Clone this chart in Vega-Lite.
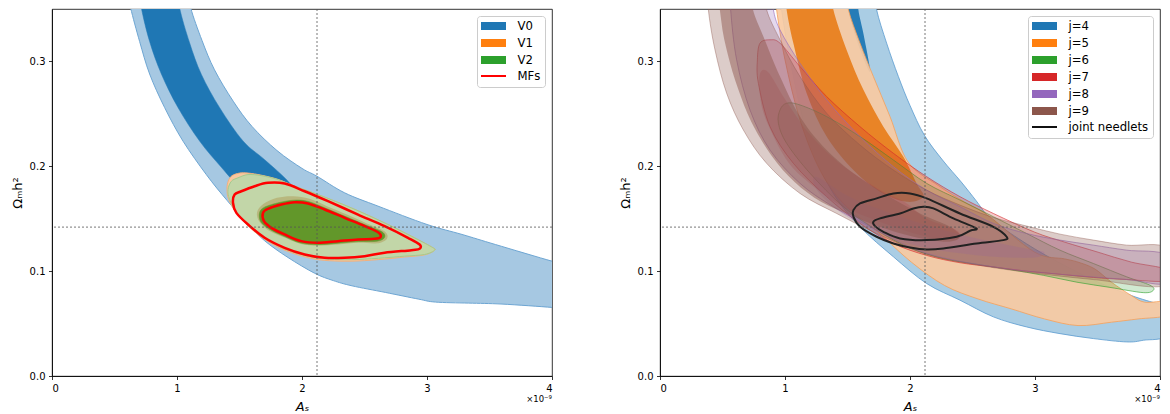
{
"$schema": "https://vega.github.io/schema/vega-lite/v6.json",
"padding": {"left": 10, "top": 8, "right": 3, "bottom": 0},
"spacing": 65,
"resolve": {"scale": {"fill": "independent", "stroke": "independent", "shape": "independent"}, "legend": {"fill": "independent", "stroke": "independent", "shape": "independent"}},
"config": {
 "font": "DejaVu Sans",
 "view": {"stroke": "#000", "strokeWidth": 0.8},
 "axis": {"grid": false, "labelFont": "DejaVu Sans", "labelFontSize": 10, "labelColor": "#000", "titleFont": "DejaVu Sans", "titleFontSize": 13, "titleFontWeight": "normal", "titleColor": "#000", "tickColor": "#000", "tickSize": 3.5, "tickWidth": 0.8, "domainColor": "#000", "domainWidth": 0.8, "labelPadding": 3.5, "titlePadding": 5},
 "axisX": {"titleFontStyle": "italic", "titlePadding": 7},
 "legend": {"title": null, "orient": "top-right", "offset": 7, "padding": 4, "rowPadding": 3, "columnPadding": 0, "symbolSize": 100, "symbolStrokeWidth": 2, "symbolOffset": 6.5, "labelOffset": 18, "labelFontSize": 11.7, "labelFont": "DejaVu Sans", "labelColor": "#000", "strokeColor": "#cccccc", "fillColor": "rgba(255,255,255,0.8)", "cornerRadius": 3, "symbolOpacity": 1, "labelLimit": 300}
},
"datasets": {
 "L": [
  {"s":"V0o","x":0.60,"y":0.37},{"s":"V0o","x":0.629,"y":0.351},{"s":"V0o","x":0.701,"y":0.319},{"s":"V0o","x":0.781,"y":0.288},{"s":"V0o","x":0.901,"y":0.256},{"s":"V0o","x":1.048,"y":0.224},{"s":"V0o","x":1.235,"y":0.192},{"s":"V0o","x":1.4,"y":0.1675},{"s":"V0o","x":1.568,"y":0.145},{"s":"V0o","x":1.701,"y":0.129},{"s":"V0o","x":1.888,"y":0.113},{"s":"V0o","x":2.101,"y":0.098},{"s":"V0o","x":2.25,"y":0.091},{"s":"V0o","x":2.4,"y":0.086},{"s":"V0o","x":2.667,"y":0.0797},{"s":"V0o","x":2.933,"y":0.0733},{"s":"V0o","x":3.067,"y":0.0705},{"s":"V0o","x":3.333,"y":0.0695},{"s":"V0o","x":3.6,"y":0.0686},{"s":"V0o","x":4.0,"y":0.0654},{"s":"V0o","x":4.1,"y":0.064},{"s":"V0o","x":4.1,"y":0.107},{"s":"V0o","x":4.0,"y":0.1095},{"s":"V0o","x":3.547,"y":0.1254},{"s":"V0o","x":3.28,"y":0.135},{"s":"V0o","x":3.0,"y":0.1445},{"s":"V0o","x":2.608,"y":0.162},{"s":"V0o","x":2.341,"y":0.1747},{"s":"V0o","x":2.12,"y":0.1905},{"s":"V0o","x":2.0,"y":0.198},{"s":"V0o","x":1.8,"y":0.215},{"s":"V0o","x":1.6,"y":0.238},{"s":"V0o","x":1.45,"y":0.262},{"s":"V0o","x":1.3,"y":0.292},{"s":"V0o","x":1.2,"y":0.32},{"s":"V0o","x":1.11,"y":0.351},{"s":"V0o","x":1.09,"y":0.37},
  {"s":"V0i","x":0.70,"y":0.37},{"s":"V0i","x":0.715,"y":0.351},{"s":"V0i","x":0.781,"y":0.319},{"s":"V0i","x":0.875,"y":0.288},{"s":"V0i","x":1.008,"y":0.256},{"s":"V0i","x":1.181,"y":0.224},{"s":"V0i","x":1.355,"y":0.199},{"s":"V0i","x":1.5,"y":0.18},{"s":"V0i","x":1.7,"y":0.16},{"s":"V0i","x":1.9,"y":0.15},{"s":"V0i","x":1.97,"y":0.17},{"s":"V0i","x":1.888,"y":0.1857},{"s":"V0i","x":1.701,"y":0.2063},{"s":"V0i","x":1.528,"y":0.2242},{"s":"V0i","x":1.341,"y":0.2559},{"s":"V0i","x":1.195,"y":0.2876},{"s":"V0i","x":1.1,"y":0.318},{"s":"V0i","x":1.021,"y":0.351},{"s":"V0i","x":1.01,"y":0.37},
  {"s":"V1o","x":1.40,"y":0.178},{"s":"V1o","x":1.41,"y":0.186},{"s":"V1o","x":1.44,"y":0.191},{"s":"V1o","x":1.5,"y":0.1935},{"s":"V1o","x":1.57,"y":0.1935},{"s":"V1o","x":1.675,"y":0.1915},{"s":"V1o","x":1.808,"y":0.1875},{"s":"V1o","x":1.941,"y":0.181},{"s":"V1o","x":2.128,"y":0.173},{"s":"V1o","x":2.395,"y":0.1603},{"s":"V1o","x":2.661,"y":0.146},{"s":"V1o","x":2.875,"y":0.1333},{"s":"V1o","x":3.035,"y":0.1232},{"s":"V1o","x":3.061,"y":0.12},{"s":"V1o","x":2.981,"y":0.1155},{"s":"V1o","x":2.821,"y":0.1135},{"s":"V1o","x":2.661,"y":0.1115},{"s":"V1o","x":2.448,"y":0.1097},{"s":"V1o","x":2.261,"y":0.1097},{"s":"V1o","x":2.101,"y":0.1115},{"s":"V1o","x":1.941,"y":0.1165},{"s":"V1o","x":1.781,"y":0.1245},{"s":"V1o","x":1.621,"y":0.1375},{"s":"V1o","x":1.488,"y":0.1535},{"s":"V1o","x":1.415,"y":0.168},
  {"s":"V2o","x":1.408,"y":0.1778},{"s":"V2o","x":1.435,"y":0.1857},{"s":"V2o","x":1.488,"y":0.189},{"s":"V2o","x":1.568,"y":0.1921},{"s":"V2o","x":1.675,"y":0.1911},{"s":"V2o","x":1.808,"y":0.1873},{"s":"V2o","x":1.941,"y":0.181},{"s":"V2o","x":2.128,"y":0.173},{"s":"V2o","x":2.395,"y":0.1603},{"s":"V2o","x":2.661,"y":0.146},{"s":"V2o","x":2.875,"y":0.1333},{"s":"V2o","x":3.035,"y":0.1232},{"s":"V2o","x":3.061,"y":0.12},{"s":"V2o","x":2.981,"y":0.1159},{"s":"V2o","x":2.821,"y":0.1143},{"s":"V2o","x":2.661,"y":0.1127},{"s":"V2o","x":2.448,"y":0.1111},{"s":"V2o","x":2.261,"y":0.1111},{"s":"V2o","x":2.101,"y":0.1127},{"s":"V2o","x":1.941,"y":0.1175},{"s":"V2o","x":1.781,"y":0.1254},{"s":"V2o","x":1.621,"y":0.1381},{"s":"V2o","x":1.488,"y":0.154},{"s":"V2o","x":1.421,"y":0.1683},
  {"s":"V1i","x":1.64,"y":0.156},{"s":"V1i","x":1.69,"y":0.164},{"s":"V1i","x":1.80,"y":0.170},{"s":"V1i","x":1.93,"y":0.1715},{"s":"V1i","x":2.06,"y":0.169},{"s":"V1i","x":2.2,"y":0.162},{"s":"V1i","x":2.36,"y":0.154},{"s":"V1i","x":2.52,"y":0.1455},{"s":"V1i","x":2.66,"y":0.138},{"s":"V1i","x":2.68,"y":0.131},{"s":"V1i","x":2.60,"y":0.1265},{"s":"V1i","x":2.45,"y":0.127},{"s":"V1i","x":2.29,"y":0.1255},{"s":"V1i","x":2.13,"y":0.1245},{"s":"V1i","x":1.99,"y":0.126},{"s":"V1i","x":1.85,"y":0.1325},{"s":"V1i","x":1.73,"y":0.139},{"s":"V1i","x":1.66,"y":0.147},
  {"s":"V2i","x":1.66,"y":0.1556},{"s":"V2i","x":1.70,"y":0.161},{"s":"V2i","x":1.82,"y":0.1655},{"s":"V2i","x":1.94,"y":0.1677},{"s":"V2i","x":2.05,"y":0.1665},{"s":"V2i","x":2.19,"y":0.160},{"s":"V2i","x":2.35,"y":0.152},{"s":"V2i","x":2.51,"y":0.144},{"s":"V2i","x":2.64,"y":0.1375},{"s":"V2i","x":2.66,"y":0.132},{"s":"V2i","x":2.60,"y":0.1285},{"s":"V2i","x":2.45,"y":0.1282},{"s":"V2i","x":2.29,"y":0.1266},{"s":"V2i","x":2.13,"y":0.1252},{"s":"V2i","x":1.99,"y":0.1268},{"s":"V2i","x":1.85,"y":0.1335},{"s":"V2i","x":1.74,"y":0.140},{"s":"V2i","x":1.67,"y":0.147},
  {"s":"MFo","x":1.461,"y":0.173},{"s":"MFo","x":1.515,"y":0.1762},{"s":"MFo","x":1.621,"y":0.181},{"s":"MFo","x":1.728,"y":0.1842},{"s":"MFo","x":1.861,"y":0.1835},{"s":"MFo","x":2.021,"y":0.1762},{"s":"MFo","x":2.208,"y":0.1667},{"s":"MFo","x":2.448,"y":0.154},{"s":"MFo","x":2.661,"y":0.1429},{"s":"MFo","x":2.848,"y":0.1318},{"s":"MFo","x":2.941,"y":0.1254},{"s":"MFo","x":2.941,"y":0.1213},{"s":"MFo","x":2.875,"y":0.12},{"s":"MFo","x":2.661,"y":0.1175},{"s":"MFo","x":2.501,"y":0.1143},{"s":"MFo","x":2.341,"y":0.1127},{"s":"MFo","x":2.181,"y":0.1127},{"s":"MFo","x":2.021,"y":0.1159},{"s":"MFo","x":1.861,"y":0.1222},{"s":"MFo","x":1.701,"y":0.1318},{"s":"MFo","x":1.568,"y":0.1445},{"s":"MFo","x":1.475,"y":0.1556},{"s":"MFo","x":1.448,"y":0.1651},
  {"s":"MFi","x":1.688,"y":0.1556},{"s":"MFi","x":1.728,"y":0.1594},{"s":"MFi","x":1.835,"y":0.1635},{"s":"MFi","x":1.941,"y":0.1657},{"s":"MFi","x":2.048,"y":0.1645},{"s":"MFi","x":2.181,"y":0.1588},{"s":"MFi","x":2.341,"y":0.1508},{"s":"MFi","x":2.501,"y":0.1429},{"s":"MFi","x":2.608,"y":0.1371},{"s":"MFi","x":2.629,"y":0.1327},{"s":"MFi","x":2.581,"y":0.1308},{"s":"MFi","x":2.448,"y":0.1302},{"s":"MFi","x":2.288,"y":0.1286},{"s":"MFi","x":2.128,"y":0.127},{"s":"MFi","x":1.995,"y":0.1286},{"s":"MFi","x":1.861,"y":0.135},{"s":"MFi","x":1.755,"y":0.1413},{"s":"MFi","x":1.696,"y":0.1476}
 ],
 "R": [
  {"s":"j4o","x":0.973,"y":0.37},{"s":"j4o","x":0.973,"y":0.3493},{"s":"j4o","x":1.067,"y":0.2856},{"s":"j4o","x":1.2,"y":0.2219},{"s":"j4o","x":1.387,"y":0.1741},{"s":"j4o","x":1.6,"y":0.1423},{"s":"j4o","x":1.867,"y":0.1137},{"s":"j4o","x":2.133,"y":0.0882},{"s":"j4o","x":2.4,"y":0.0723},{"s":"j4o","x":2.667,"y":0.0564},{"s":"j4o","x":2.933,"y":0.0468},{"s":"j4o","x":3.2,"y":0.0404},{"s":"j4o","x":3.467,"y":0.0357},{"s":"j4o","x":3.733,"y":0.0325},{"s":"j4o","x":3.867,"y":0.0341},{"s":"j4o","x":4.05,"y":0.039},{"s":"j4o","x":4.05,"y":0.0672},{"s":"j4o","x":3.984,"y":0.0688},{"s":"j4o","x":3.771,"y":0.0767},{"s":"j4o","x":3.504,"y":0.0895},{"s":"j4o","x":3.237,"y":0.1054},{"s":"j4o","x":2.997,"y":0.1213},{"s":"j4o","x":2.75,"y":0.1405},{"s":"j4o","x":2.62,"y":0.153},{"s":"j4o","x":2.53,"y":0.167},{"s":"j4o","x":2.41,"y":0.185},{"s":"j4o","x":2.26,"y":0.206},{"s":"j4o","x":2.115,"y":0.2296},{"s":"j4o","x":2.0,"y":0.258},{"s":"j4o","x":1.907,"y":0.2856},{"s":"j4o","x":1.813,"y":0.3174},{"s":"j4o","x":1.733,"y":0.3493},{"s":"j4o","x":1.72,"y":0.37},
  {"s":"j4i","x":1.50,"y":0.37},{"s":"j4i","x":1.507,"y":0.3493},{"s":"j4i","x":1.58,"y":0.318},{"s":"j4i","x":1.68,"y":0.29},{"s":"j4i","x":1.63,"y":0.325},{"s":"j4i","x":1.587,"y":0.3493},{"s":"j4i","x":1.58,"y":0.37},
  {"s":"j5o","x":0.92,"y":0.37},{"s":"j5o","x":0.933,"y":0.3493},{"s":"j5o","x":1.0,"y":0.3015},{"s":"j5o","x":1.12,"y":0.2442},{"s":"j5o","x":1.28,"y":0.1964},{"s":"j5o","x":1.467,"y":0.1646},{"s":"j5o","x":1.744,"y":0.1372},{"s":"j5o","x":2.011,"y":0.1086},{"s":"j5o","x":2.277,"y":0.0863},{"s":"j5o","x":2.544,"y":0.0735},{"s":"j5o","x":2.811,"y":0.064},{"s":"j5o","x":3.077,"y":0.0544},{"s":"j5o","x":3.344,"y":0.0481},{"s":"j5o","x":3.611,"y":0.0513},{"s":"j5o","x":3.824,"y":0.0544},{"s":"j5o","x":4.05,"y":0.0579},{"s":"j5o","x":4.05,"y":0.0704},{"s":"j5o","x":3.877,"y":0.0704},{"s":"j5o","x":3.771,"y":0.0767},{"s":"j5o","x":3.611,"y":0.0895},{"s":"j5o","x":3.477,"y":0.1022},{"s":"j5o","x":3.344,"y":0.1086},{"s":"j5o","x":3.237,"y":0.1117},{"s":"j5o","x":2.997,"y":0.1181},{"s":"j5o","x":2.624,"y":0.1531},{"s":"j5o","x":2.437,"y":0.1659},{"s":"j5o","x":2.224,"y":0.1818},{"s":"j5o","x":1.984,"y":0.2041},{"s":"j5o","x":1.84,"y":0.2474},{"s":"j5o","x":1.707,"y":0.2856},{"s":"j5o","x":1.6,"y":0.3174},{"s":"j5o","x":1.507,"y":0.3493},{"s":"j5o","x":1.49,"y":0.37},
  {"s":"j5i","x":1.0,"y":0.37},{"s":"j5i","x":1.013,"y":0.3493},{"s":"j5i","x":1.067,"y":0.3174},{"s":"j5i","x":1.173,"y":0.2697},{"s":"j5i","x":1.333,"y":0.2283},{"s":"j5i","x":1.547,"y":0.1964},{"s":"j5i","x":1.76,"y":0.1758},{"s":"j5i","x":1.973,"y":0.1662},{"s":"j5i","x":2.107,"y":0.171},{"s":"j5i","x":2.053,"y":0.1837},{"s":"j5i","x":1.947,"y":0.2092},{"s":"j5i","x":1.787,"y":0.2378},{"s":"j5i","x":1.627,"y":0.2729},{"s":"j5i","x":1.493,"y":0.311},{"s":"j5i","x":1.387,"y":0.3493},{"s":"j5i","x":1.373,"y":0.37},
  {"s":"j6o","x":0.96,"y":0.2537},{"s":"j6o","x":1.013,"y":0.2601},{"s":"j6o","x":1.12,"y":0.2585},{"s":"j6o","x":1.333,"y":0.2474},{"s":"j6o","x":1.6,"y":0.2283},{"s":"j6o","x":1.867,"y":0.206},{"s":"j6o","x":2.133,"y":0.1837},{"s":"j6o","x":2.4,"y":0.1678},{"s":"j6o","x":2.667,"y":0.1519},{"s":"j6o","x":2.933,"y":0.1359},{"s":"j6o","x":3.2,"y":0.12},{"s":"j6o","x":3.467,"y":0.1073},{"s":"j6o","x":3.733,"y":0.0946},{"s":"j6o","x":3.92,"y":0.0866},{"s":"j6o","x":3.947,"y":0.0818},{"s":"j6o","x":3.867,"y":0.0795},{"s":"j6o","x":3.6,"y":0.0845},{"s":"j6o","x":3.333,"y":0.0895},{"s":"j6o","x":3.067,"y":0.096},{"s":"j6o","x":2.8,"y":0.1015},{"s":"j6o","x":2.533,"y":0.1065},{"s":"j6o","x":2.267,"y":0.112},{"s":"j6o","x":2.0,"y":0.122},{"s":"j6o","x":1.733,"y":0.1391},{"s":"j6o","x":1.467,"y":0.1614},{"s":"j6o","x":1.2,"y":0.1933},{"s":"j6o","x":1.013,"y":0.2219},{"s":"j6o","x":0.947,"y":0.241},
  {"s":"j7o","x":0.779,"y":0.3015},{"s":"j7o","x":0.8,"y":0.3174},{"s":"j7o","x":0.88,"y":0.3206},{"s":"j7o","x":0.96,"y":0.3174},{"s":"j7o","x":1.12,"y":0.2951},{"s":"j7o","x":1.333,"y":0.2665},{"s":"j7o","x":1.6,"y":0.2378},{"s":"j7o","x":1.867,"y":0.2124},{"s":"j7o","x":2.133,"y":0.1901},{"s":"j7o","x":2.4,"y":0.171},{"s":"j7o","x":2.667,"y":0.155},{"s":"j7o","x":2.997,"y":0.1372},{"s":"j7o","x":3.237,"y":0.1277},{"s":"j7o","x":3.504,"y":0.1181},{"s":"j7o","x":3.771,"y":0.1086},{"s":"j7o","x":4.05,"y":0.1016},{"s":"j7o","x":4.05,"y":0.0907},{"s":"j7o","x":3.733,"y":0.092},{"s":"j7o","x":3.467,"y":0.094},{"s":"j7o","x":3.2,"y":0.097},{"s":"j7o","x":2.933,"y":0.1},{"s":"j7o","x":2.667,"y":0.104},{"s":"j7o","x":2.4,"y":0.108},{"s":"j7o","x":2.133,"y":0.115},{"s":"j7o","x":1.867,"y":0.1264},{"s":"j7o","x":1.6,"y":0.1455},{"s":"j7o","x":1.333,"y":0.171},{"s":"j7o","x":1.067,"y":0.2028},{"s":"j7o","x":0.88,"y":0.2378},{"s":"j7o","x":0.787,"y":0.2792},
  {"s":"j7i","x":0.797,"y":0.2869},{"s":"j7i","x":0.811,"y":0.2582},{"s":"j7i","x":0.891,"y":0.2327},{"s":"j7i","x":1.024,"y":0.2041},{"s":"j7i","x":1.184,"y":0.185},{"s":"j7i","x":1.397,"y":0.1659},{"s":"j7i","x":1.557,"y":0.1563},{"s":"j7i","x":1.867,"y":0.1423},{"s":"j7i","x":2.133,"y":0.1328},{"s":"j7i","x":2.347,"y":0.1296},{"s":"j7i","x":2.4,"y":0.1344},{"s":"j7i","x":2.347,"y":0.1407},{"s":"j7i","x":2.133,"y":0.15},{"s":"j7i","x":1.957,"y":0.1659},{"s":"j7i","x":1.744,"y":0.1786},{"s":"j7i","x":1.424,"y":0.2041},{"s":"j7i","x":1.184,"y":0.2327},{"s":"j7i","x":0.997,"y":0.2646},{"s":"j7i","x":0.864,"y":0.29},
  {"s":"j8o","x":0.565,"y":0.37},{"s":"j8o","x":0.565,"y":0.3493},{"s":"j8o","x":0.613,"y":0.3015},{"s":"j8o","x":0.72,"y":0.2537},{"s":"j8o","x":0.88,"y":0.2155},{"s":"j8o","x":1.12,"y":0.1837},{"s":"j8o","x":1.387,"y":0.1614},{"s":"j8o","x":1.733,"y":0.1391},{"s":"j8o","x":2.133,"y":0.117},{"s":"j8o","x":2.667,"y":0.104},{"s":"j8o","x":3.2,"y":0.097},{"s":"j8o","x":3.733,"y":0.092},{"s":"j8o","x":4.05,"y":0.0888},{"s":"j8o","x":4.05,"y":0.1153},{"s":"j8o","x":3.733,"y":0.12},{"s":"j8o","x":3.467,"y":0.1248},{"s":"j8o","x":3.2,"y":0.1296},{"s":"j8o","x":2.933,"y":0.1359},{"s":"j8o","x":2.667,"y":0.1455},{"s":"j8o","x":2.4,"y":0.1614},{"s":"j8o","x":2.133,"y":0.1773},{"s":"j8o","x":1.867,"y":0.1996},{"s":"j8o","x":1.6,"y":0.2283},{"s":"j8o","x":1.333,"y":0.2633},{"s":"j8o","x":1.12,"y":0.2983},{"s":"j8o","x":0.96,"y":0.3301},{"s":"j8o","x":0.907,"y":0.3493},{"s":"j8o","x":0.893,"y":0.37},
  {"s":"j8i","x":1.25,"y":0.19},{"s":"j8i","x":1.5,"y":0.172},{"s":"j8i","x":1.8,"y":0.157},{"s":"j8i","x":2.1,"y":0.145},{"s":"j8i","x":2.4,"y":0.135},{"s":"j8i","x":2.7,"y":0.127},{"s":"j8i","x":2.95,"y":0.121},{"s":"j8i","x":3.075,"y":0.118},{"s":"j8i","x":3.0,"y":0.113},{"s":"j8i","x":2.7,"y":0.1135},{"s":"j8i","x":2.4,"y":0.117},{"s":"j8i","x":2.133,"y":0.122},{"s":"j8i","x":1.867,"y":0.131},{"s":"j8i","x":1.6,"y":0.145},{"s":"j8i","x":1.4,"y":0.16},{"s":"j8i","x":1.25,"y":0.178},
  {"s":"j9o","x":0.387,"y":0.37},{"s":"j9o","x":0.387,"y":0.3493},{"s":"j9o","x":0.44,"y":0.311},{"s":"j9o","x":0.533,"y":0.2697},{"s":"j9o","x":0.667,"y":0.2346},{"s":"j9o","x":0.853,"y":0.2028},{"s":"j9o","x":1.12,"y":0.1741},{"s":"j9o","x":1.413,"y":0.155},{"s":"j9o","x":1.733,"y":0.1359},{"s":"j9o","x":2.133,"y":0.116},{"s":"j9o","x":2.533,"y":0.106},{"s":"j9o","x":2.933,"y":0.099},{"s":"j9o","x":3.467,"y":0.092},{"s":"j9o","x":4.05,"y":0.0866},{"s":"j9o","x":4.05,"y":0.122},{"s":"j9o","x":3.733,"y":0.1248},{"s":"j9o","x":3.467,"y":0.1296},{"s":"j9o","x":3.2,"y":0.1353},{"s":"j9o","x":2.933,"y":0.143},{"s":"j9o","x":2.667,"y":0.1512},{"s":"j9o","x":2.4,"y":0.163},{"s":"j9o","x":2.133,"y":0.1773},{"s":"j9o","x":1.867,"y":0.1964},{"s":"j9o","x":1.6,"y":0.2203},{"s":"j9o","x":1.333,"y":0.2506},{"s":"j9o","x":1.12,"y":0.2856},{"s":"j9o","x":0.96,"y":0.3206},{"s":"j9o","x":0.853,"y":0.3493},{"s":"j9o","x":0.848,"y":0.37},
  {"s":"j9i","x":0.491,"y":0.37},{"s":"j9i","x":0.491,"y":0.3378},{"s":"j9i","x":0.544,"y":0.306},{"s":"j9i","x":0.624,"y":0.2741},{"s":"j9i","x":0.731,"y":0.2423},{"s":"j9i","x":0.891,"y":0.2104},{"s":"j9i","x":1.077,"y":0.185},{"s":"j9i","x":1.291,"y":0.1659},{"s":"j9i","x":1.531,"y":0.1531},{"s":"j9i","x":1.76,"y":0.1423},{"s":"j9i","x":2.027,"y":0.1328},{"s":"j9i","x":2.293,"y":0.128},{"s":"j9i","x":2.4,"y":0.1328},{"s":"j9i","x":2.32,"y":0.1423},{"s":"j9i","x":2.08,"y":0.155},{"s":"j9i","x":1.813,"y":0.1726},{"s":"j9i","x":1.547,"y":0.1933},{"s":"j9i","x":1.307,"y":0.2187},{"s":"j9i","x":1.12,"y":0.2474},{"s":"j9i","x":0.96,"y":0.2856},{"s":"j9i","x":0.827,"y":0.3238},{"s":"j9i","x":0.744,"y":0.3493},{"s":"j9i","x":0.733,"y":0.37},
  {"s":"JNo","x":1.547,"y":0.1582},{"s":"JNo","x":1.6,"y":0.1646},{"s":"JNo","x":1.733,"y":0.1694},{"s":"JNo","x":1.867,"y":0.1741},{"s":"JNo","x":2.0,"y":0.1741},{"s":"JNo","x":2.133,"y":0.1694},{"s":"JNo","x":2.4,"y":0.155},{"s":"JNo","x":2.667,"y":0.1423},{"s":"JNo","x":2.773,"y":0.1328},{"s":"JNo","x":2.747,"y":0.1296},{"s":"JNo","x":2.533,"y":0.1264},{"s":"JNo","x":2.267,"y":0.1217},{"s":"JNo","x":2.133,"y":0.1207},{"s":"JNo","x":2.0,"y":0.1226},{"s":"JNo","x":1.867,"y":0.1264},{"s":"JNo","x":1.733,"y":0.1328},{"s":"JNo","x":1.6,"y":0.1423},{"s":"JNo","x":1.547,"y":0.1519},
  {"s":"JNi","x":1.707,"y":0.1471},{"s":"JNi","x":1.76,"y":0.1503},{"s":"JNi","x":1.92,"y":0.155},{"s":"JNi","x":2.027,"y":0.1598},{"s":"JNi","x":2.107,"y":0.1614},{"s":"JNi","x":2.187,"y":0.1598},{"s":"JNi","x":2.347,"y":0.1503},{"s":"JNi","x":2.507,"y":0.1423},{"s":"JNi","x":2.533,"y":0.1398},{"s":"JNi","x":2.48,"y":0.1385},{"s":"JNi","x":2.373,"y":0.1328},{"s":"JNi","x":2.133,"y":0.1296},{"s":"JNi","x":1.92,"y":0.1312},{"s":"JNi","x":1.787,"y":0.1375},{"s":"JNi","x":1.72,"y":0.1429}
 ]
},
"hconcat": [
 {
  "width": 500, "height": 367,
  "layer": [
   {
    "data": {"name": "L"},
    "encoding": {
     "x": {"field": "x", "type": "quantitative", "scale": {"domain": [0, 4], "nice": false, "zero": false}, "axis": {"values": [0, 1, 2, 3, 4], "format": ".0f", "title": "Aₛ"}},
     "y": {"field": "y", "type": "quantitative", "scale": {"domain": [0, 0.35], "nice": false}, "axis": {"values": [0, 0.1, 0.2, 0.3], "format": ".1f", "title": "Ωₘh²"}},
     "order": {"value": null}
    },
    "layer": [
     {"transform": [{"filter": "datum.s=='V0o'"}], "mark": {"type": "line", "interpolate": "cardinal-closed", "clip": true, "fill": "#a6c8e2", "stroke": "#6ea6d3", "strokeWidth": 1}},
     {"transform": [{"filter": "datum.s=='V0i'"}], "mark": {"type": "line", "interpolate": "cardinal-closed", "clip": true, "fill": "#1f77b4", "stroke": "#1f77b4", "strokeWidth": 0.5}},
     {"transform": [{"filter": "datum.s=='V1o'"}], "mark": {"type": "line", "interpolate": "cardinal-closed", "clip": true, "fill": "#f8c8a0", "stroke": "#f3b07c", "strokeWidth": 1}},
     {"transform": [{"filter": "datum.s=='V2o'"}], "mark": {"type": "line", "interpolate": "cardinal-closed", "clip": true, "fill": "#c2d6a8", "stroke": "#a3ca8e", "strokeWidth": 1}},
     {"transform": [{"filter": "datum.s=='V1i'"}], "mark": {"type": "line", "interpolate": "cardinal-closed", "clip": true, "fill": "#b8b87e", "strokeWidth": 0}},
     {"transform": [{"filter": "datum.s=='V2i'"}], "mark": {"type": "line", "interpolate": "cardinal-closed", "clip": true, "fill": "#62972a", "stroke": "#62972a", "strokeWidth": 0.5}},
     {"transform": [{"filter": "datum.s=='MFo'"}], "mark": {"type": "line", "interpolate": "cardinal-closed", "clip": true, "stroke": "#ff0000", "strokeWidth": 2.5}},
     {"transform": [{"filter": "datum.s=='MFi'"}], "mark": {"type": "line", "interpolate": "cardinal-closed", "clip": true, "stroke": "#ff0000", "strokeWidth": 2.5}}
    ]
   },
   {"data": {"values": [{}]}, "mark": {"type": "rule", "stroke": "#555555", "strokeDash": [2, 2], "strokeWidth": 0.8}, "encoding": {"x": {"datum": 2.12, "type": "quantitative"}}},
   {"data": {"values": [{}]}, "mark": {"type": "rule", "stroke": "#555555", "strokeDash": [2, 2], "strokeWidth": 0.8}, "encoding": {"y": {"datum": 0.142, "type": "quantitative"}}},
   {"data": {"values": [{}]}, "mark": {"type": "text", "text": "×10⁻⁹", "align": "right", "baseline": "middle", "dy": 23, "fontSize": 8.5, "font": "DejaVu Sans", "color": "#000"}, "encoding": {"x": {"datum": 4, "type": "quantitative"}, "y": {"datum": 0, "type": "quantitative"}}},
   {
    "data": {"values": [{"k": "V0"}, {"k": "V1"}, {"k": "V2"}, {"k": "MFs"}]},
    "mark": {"type": "point", "filled": true, "opacity": 0},
    "encoding": {
     "fill": {"field": "k", "type": "nominal", "scale": {"domain": ["V0", "V1", "V2", "MFs"], "range": ["#1f77b4", "#ff7f0e", "#2ca02c", "transparent"]}, "legend": {"title": null}},
     "stroke": {"field": "k", "type": "nominal", "scale": {"domain": ["V0", "V1", "V2", "MFs"], "range": ["#1f77b4", "#ff7f0e", "#2ca02c", "#ff0000"]}, "legend": {"title": null}},
     "shape": {"field": "k", "type": "nominal", "scale": {"domain": ["V0", "V1", "V2", "MFs"], "range": ["M-2.3,-0.6H2.3V0.6H-2.3Z", "M-2.3,-0.6H2.3V0.6H-2.3Z", "M-2.3,-0.6H2.3V0.6H-2.3Z", "M-2.5,0H2.5"]}, "legend": {"title": null}}
    }
   }
  ]
 },
 {
  "width": 500, "height": 367,
  "layer": [
   {
    "data": {"name": "R"},
    "encoding": {
     "x": {"field": "x", "type": "quantitative", "scale": {"domain": [0, 4], "nice": false, "zero": false}, "axis": {"values": [0, 1, 2, 3, 4], "format": ".0f", "title": "Aₛ"}},
     "y": {"field": "y", "type": "quantitative", "scale": {"domain": [0, 0.35], "nice": false}, "axis": {"values": [0, 0.1, 0.2, 0.3], "format": ".1f", "title": "Ωₘh²"}},
     "order": {"value": null}
    },
    "layer": [
     {"transform": [{"filter": "datum.s=='j4o'"}], "mark": {"type": "line", "interpolate": "cardinal-closed", "clip": true, "fill": "#aacde4", "stroke": "#5b9bd0", "strokeOpacity": 0.8, "strokeWidth": 1}},
     {"transform": [{"filter": "datum.s=='j4i'"}], "mark": {"type": "line", "interpolate": "cardinal-closed", "clip": true, "fill": "#1f77b4", "fillOpacity": 0.95, "strokeWidth": 0}},
     {"transform": [{"filter": "datum.s=='j5o'"}], "mark": {"type": "line", "interpolate": "cardinal-closed", "clip": true, "fill": "#f8caa2", "fillOpacity": 0.92, "stroke": "#f5a05a", "strokeOpacity": 0.8, "strokeWidth": 1}},
     {"transform": [{"filter": "datum.s=='j5i'"}], "mark": {"type": "line", "interpolate": "cardinal-closed", "clip": true, "fill": "#e8801f", "fillOpacity": 0.95, "strokeWidth": 0}},
     {"transform": [{"filter": "datum.s=='j6o'"}], "mark": {"type": "line", "interpolate": "cardinal-closed", "clip": true, "fill": "#2ca02c", "fillOpacity": 0.22, "stroke": "#2ca02c", "strokeOpacity": 0.6, "strokeWidth": 1}},
     {"transform": [{"filter": "datum.s=='j7o'"}], "mark": {"type": "line", "interpolate": "cardinal-closed", "clip": true, "fill": "#d62728", "fillOpacity": 0.24, "stroke": "#d62728", "strokeOpacity": 0.6, "strokeWidth": 1}},
     {"transform": [{"filter": "datum.s=='j7i'"}], "mark": {"type": "line", "interpolate": "cardinal-closed", "clip": true, "fill": "#d62728", "fillOpacity": 0.25, "strokeWidth": 0}},
     {"transform": [{"filter": "datum.s=='j8o'"}], "mark": {"type": "line", "interpolate": "cardinal-closed", "clip": true, "fill": "#9467bd", "fillOpacity": 0.25, "stroke": "#9467bd", "strokeOpacity": 0.6, "strokeWidth": 1}},
     {"transform": [{"filter": "datum.s=='j8i'"}], "mark": {"type": "line", "interpolate": "cardinal-closed", "clip": true, "fill": "#9467bd", "fillOpacity": 0.22, "strokeWidth": 0}},
     {"transform": [{"filter": "datum.s=='j9o'"}], "mark": {"type": "line", "interpolate": "cardinal-closed", "clip": true, "fill": "#8c564b", "fillOpacity": 0.3, "stroke": "#8c564b", "strokeOpacity": 0.4, "strokeWidth": 1}},
     {"transform": [{"filter": "datum.s=='j9i'"}], "mark": {"type": "line", "interpolate": "cardinal-closed", "clip": true, "fill": "#8c564b", "fillOpacity": 0.48, "strokeWidth": 0}},
     {"transform": [{"filter": "datum.s=='JNo'"}], "mark": {"type": "line", "interpolate": "cardinal-closed", "clip": true, "stroke": "#222222", "strokeWidth": 2}},
     {"transform": [{"filter": "datum.s=='JNi'"}], "mark": {"type": "line", "interpolate": "cardinal-closed", "clip": true, "stroke": "#222222", "strokeWidth": 2}}
    ]
   },
   {"data": {"values": [{}]}, "mark": {"type": "rule", "stroke": "#555555", "strokeDash": [2, 2], "strokeWidth": 0.8}, "encoding": {"x": {"datum": 2.12, "type": "quantitative"}}},
   {"data": {"values": [{}]}, "mark": {"type": "rule", "stroke": "#555555", "strokeDash": [2, 2], "strokeWidth": 0.8}, "encoding": {"y": {"datum": 0.142, "type": "quantitative"}}},
   {"data": {"values": [{}]}, "mark": {"type": "text", "text": "×10⁻⁹", "align": "right", "baseline": "middle", "dy": 23, "fontSize": 8.5, "font": "DejaVu Sans", "color": "#000"}, "encoding": {"x": {"datum": 4, "type": "quantitative"}, "y": {"datum": 0, "type": "quantitative"}}},
   {
    "data": {"values": [{"k": "j=4"}, {"k": "j=5"}, {"k": "j=6"}, {"k": "j=7"}, {"k": "j=8"}, {"k": "j=9"}, {"k": "joint needlets"}]},
    "mark": {"type": "point", "filled": true, "opacity": 0},
    "encoding": {
     "fill": {"field": "k", "type": "nominal", "scale": {"domain": ["j=4", "j=5", "j=6", "j=7", "j=8", "j=9", "joint needlets"], "range": ["#1f77b4", "#ff7f0e", "#2ca02c", "#d62728", "#9467bd", "#8c564b", "transparent"]}, "legend": {"title": null}},
     "stroke": {"field": "k", "type": "nominal", "scale": {"domain": ["j=4", "j=5", "j=6", "j=7", "j=8", "j=9", "joint needlets"], "range": ["#1f77b4", "#ff7f0e", "#2ca02c", "#d62728", "#9467bd", "#8c564b", "#111111"]}, "legend": {"title": null}},
     "shape": {"field": "k", "type": "nominal", "scale": {"domain": ["j=4", "j=5", "j=6", "j=7", "j=8", "j=9", "joint needlets"], "range": ["M-2.3,-0.6H2.3V0.6H-2.3Z", "M-2.3,-0.6H2.3V0.6H-2.3Z", "M-2.3,-0.6H2.3V0.6H-2.3Z", "M-2.3,-0.6H2.3V0.6H-2.3Z", "M-2.3,-0.6H2.3V0.6H-2.3Z", "M-2.3,-0.6H2.3V0.6H-2.3Z", "M-2.5,0H2.5"]}, "legend": {"title": null}}
    }
   }
  ]
 }
]
}
